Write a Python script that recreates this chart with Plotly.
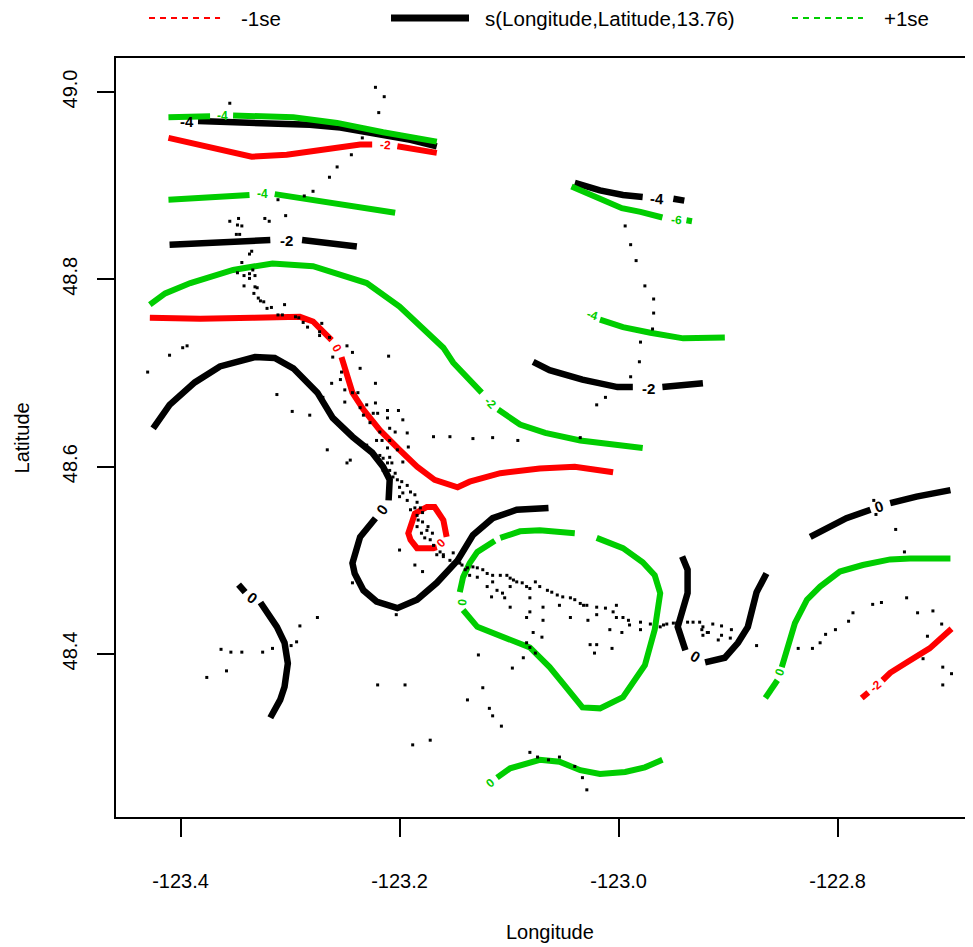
import plotly.graph_objects as go

# ---------------- observation locations (Longitude, Latitude) ----------------
obs_lon = [-123.222, -123.214, -123.219, -123.355, -123.234, -123.244, -123.257, -123.264, -123.279, -123.287,
           -123.311, -123.304, -123.323, -123.319, -123.355, -123.347, -123.348, -123.344, -123.349, -123.346,
           -123.335, -123.337, -123.344, -123.334, -123.348, -123.342, -123.337, -123.332, -123.337, -123.342,
           -123.332, -123.330, -123.333, -123.329, -123.327, -123.324, -123.321, -123.317, -123.305, -123.311,
           -123.307, -123.295, -123.292, -123.288, -123.284, -123.271, -123.273, -123.273, -123.264, -123.248,
           -123.394, -123.398, -123.430, -123.410,
           -123.243, -123.261, -123.253, -123.254, -123.250, -123.243, -123.238, -123.236, -123.210, -123.262,
           -123.270, -123.282, -123.250, -123.236, -123.230, -123.222, -123.233, -123.224, -123.220, -123.211,
           -123.211, -123.201, -123.197, -123.227, -123.218, -123.209, -123.204, -123.193, -123.221, -123.216,
           -123.209, -123.211, -123.192, -123.202, -123.230, -123.218, -123.215, -123.209, -123.211, -123.207,
           -123.215, -123.209, -123.204, -123.197, -123.245, -123.248, -123.266, -123.206, -123.202, -123.198,
           -123.200, -123.193, -123.197, -123.190, -123.200, -123.193, -123.186, -123.184, -123.190, -123.186,
           -123.181, -123.184, -123.179, -123.183, -123.179, -123.174, -123.184, -123.180, -123.175, -123.170,
           -123.177, -123.172, -123.169, -123.163, -123.160, -123.166, -123.200, -123.186, -123.243, -123.151,
           -123.145, -123.222, -123.169, -123.154, -123.133, -123.115, -123.092, -123.035,
           -123.143, -123.138, -123.133, -123.129, -123.124, -123.120, -123.129, -123.115, -123.108, -123.102,
           -123.099, -123.096, -123.115, -123.120, -123.111, -123.106, -123.099, -123.093, -123.088, -123.084,
           -123.081, -123.076, -123.072, -123.065, -123.061, -123.056, -123.051, -123.044, -123.040, -123.035,
           -123.029, -123.020, -123.012, -123.005, -123.002, -122.996, -122.991, -122.990, -122.980, -122.971,
           -122.962, -122.956, -122.947, -122.937, -122.926, -122.923, -122.919, -123.002, -123.020, -123.032,
           -123.054, -123.069, -123.081, -123.084, -123.099, -123.116, -123.104, -123.081, -123.069, -123.044,
           -123.028, -123.008, -122.997, -122.980, -123.078, -123.070, -123.084, -123.081, -123.026, -123.020,
           -123.022, -123.006, -123.087, -123.076, -123.128, -123.097, -123.124, -123.138, -123.118, -123.115,
           -123.107, -123.195, -123.179, -123.160, -123.154, -123.140, -123.136, -122.959, -122.950,
           -122.932, -122.924, -122.923, -122.918, -122.914, -122.906, -122.906, -122.897, -122.898, -122.909,
           -122.874, -122.836, -122.823, -122.816, -122.811, -122.802, -122.790, -122.786, -122.768, -122.760,
           -122.737, -122.727, -122.713, -122.705, -122.718, -122.722, -122.704, -122.696, -122.704, -122.747,
           -122.739, -122.767, -122.765,
           -122.994, -122.989, -122.984, -122.976, -122.968, -122.968, -122.969, -122.980, -122.981, -122.989,
           -123.012, -123.020,
           -123.275, -123.291, -123.294, -123.299, -123.316, -123.325, -123.344, -123.354, -123.363, -123.358,
           -123.376,
           -123.188, -123.172, -123.220, -123.081, -123.074, -123.064, -123.054, -123.040, -123.033, -123.029,
           -123.312, -123.298, -123.203]
obs_lat = [49.005, 48.995, 48.978, 48.988, 48.951, 48.933, 48.920, 48.909, 48.894, 48.889,
           48.885, 48.868, 48.865, 48.862, 48.862, 48.865, 48.858, 48.857, 48.848, 48.848,
           48.830, 48.827, 48.818, 48.810, 48.807, 48.804, 48.806, 48.804, 48.801, 48.793,
           48.792, 48.791, 48.785, 48.780, 48.777, 48.776, 48.769, 48.770, 48.773, 48.762,
           48.762, 48.760, 48.759, 48.754, 48.749, 48.753, 48.744, 48.740, 48.738, 48.729,
           48.729, 48.727, 48.701, 48.719,
           48.722, 48.717, 48.701, 48.693, 48.682, 48.679, 48.679, 48.705, 48.718, 48.689,
           48.674, 48.655, 48.669, 48.663, 48.666, 48.668, 48.655, 48.657, 48.657, 48.660,
           48.652, 48.660, 48.650, 48.647, 48.637, 48.641, 48.637, 48.636, 48.628, 48.628,
           48.628, 48.620, 48.621, 48.618, 48.623, 48.612, 48.609, 48.610, 48.604, 48.604,
           48.596, 48.596, 48.593, 48.605, 48.607, 48.604, 48.618, 48.589, 48.586, 48.584,
           48.578, 48.580, 48.572, 48.573, 48.568, 48.564, 48.570, 48.562, 48.554, 48.556,
           48.556, 48.548, 48.551, 48.543, 48.541, 48.536, 48.536, 48.529, 48.532, 48.529,
           48.524, 48.522, 48.516, 48.509, 48.506, 48.506, 48.511, 48.495, 48.476, 48.508,
           48.497, 48.689, 48.632, 48.632, 48.630, 48.631, 48.628, 48.631,
           48.495, 48.492, 48.493, 48.492, 48.490, 48.486, 48.482, 48.484, 48.484, 48.484,
           48.481, 48.479, 48.477, 48.472, 48.468, 48.465, 48.472, 48.477, 48.476, 48.472,
           48.470, 48.477, 48.472, 48.468, 48.466, 48.463, 48.461, 48.460, 48.458, 48.454,
           48.452, 48.450, 48.449, 48.445, 48.439, 48.439, 48.436, 48.431, 48.434, 48.432,
           48.429, 48.432, 48.433, 48.434, 48.434, 48.429, 48.423, 48.452, 48.442, 48.452,
           48.452, 48.450, 48.445, 48.439, 48.450, 48.461, 48.460, 48.460, 48.436, 48.439,
           48.436, 48.426, 48.423, 48.426, 48.423, 48.418, 48.412, 48.407, 48.410, 48.410,
           48.401, 48.406, 48.396, 48.401, 48.399, 48.385, 48.364, 48.351, 48.342, 48.334,
           48.323, 48.367, 48.488, 48.504, 48.500, 48.490, 48.484, 48.431, 48.433,
           48.434, 48.426, 48.420, 48.423, 48.432, 48.430, 48.420, 48.426, 48.417, 48.415,
           48.409, 48.406, 48.406, 48.412, 48.421, 48.426, 48.435, 48.444, 48.453, 48.455,
           48.460, 48.444, 48.446, 48.432, 48.419, 48.395, 48.386, 48.379, 48.367, 48.533,
           48.509, 48.564, 48.549,
           48.857, 48.837, 48.820, 48.793, 48.779, 48.764, 48.747, 48.733, 48.712, 48.696,
           48.674, 48.666,
           48.439, 48.430, 48.413, 48.409, 48.406, 48.402, 48.402, 48.402, 48.405, 48.382,
           48.375,
           48.303, 48.308, 48.367, 48.295, 48.290, 48.287, 48.290, 48.280, 48.268, 48.255,
           48.677, 48.659, 48.442]

# ---------------- fitted smooth contours (None = gap for a label) ----------------
fit_m4_nw_lon = [-123.384, -123.355, -123.318, -123.282, -123.254, -123.218, -123.190, -123.166]
fit_m4_nw_lat = [48.969, 48.968, 48.967, 48.965, 48.962, 48.955, 48.949, 48.942]

fit_m2_nw_lon = [-123.410, -123.373, -123.337, -123.318, None, -123.289, -123.264, -123.239]
fit_m2_nw_lat = [48.837, 48.839, 48.842, 48.842, None, 48.842, 48.839, 48.835]

fit_0_w_lon = [-123.425, -123.410, -123.387, -123.364, -123.332, -123.314, -123.297, -123.275, -123.261,
               -123.243, -123.225, -123.215, -123.209, -123.210, None,
               -123.222, -123.236, -123.243, -123.241, -123.233, -123.221, -123.202, -123.184, -123.166,
               -123.147, -123.133, -123.115, -123.093, -123.064]
fit_0_w_lat = [48.641, 48.666, 48.690, 48.707, 48.717, 48.716, 48.705, 48.679, 48.652,
               48.632, 48.615, 48.600, 48.586, 48.564, None,
               48.545, 48.525, 48.497, 48.486, 48.468, 48.456, 48.449, 48.458, 48.476,
               48.500, 48.527, 48.545, 48.554, 48.556]

fit_0_sw_lon = [-123.347, -123.341, None, -123.327, -123.312, -123.305, -123.302, -123.305, -123.309, -123.318]
fit_0_sw_lat = [48.474, 48.466, None, 48.455, 48.429, 48.412, 48.390, 48.365, 48.351, 48.332]

fit_m4_ne_lon = [-123.040, -123.017, -122.996, -122.978, None, -122.950, -122.940]
fit_m4_ne_lat = [48.903, 48.895, 48.890, 48.888, None, 48.886, 48.884]

fit_m2_ne_lon = [-123.078, -123.063, -123.033, -123.001, -122.987, None, -122.960, -122.923]
fit_m2_ne_lat = [48.712, 48.703, 48.693, 48.685, 48.685, None, 48.685, 48.689]

fit_0_u_lon = [-122.942, -122.937, -122.937, -122.941, -122.946, -122.939, None,
               -122.921, -122.903, -122.891, -122.882, -122.874, -122.865]
fit_0_u_lat = [48.504, 48.490, 48.465, 48.447, 48.429, 48.404, None,
               48.391, 48.396, 48.412, 48.429, 48.466, 48.486]

fit_0_e_lon = [-122.825, -122.792, -122.770, None, -122.752, -122.728, -122.697]
fit_0_e_lat = [48.525, 48.545, 48.554, None, 48.561, 48.568, 48.575]

# ---------------- -1se contours ----------------
lo_m2_n_lon = [-123.411, -123.382, -123.335, -123.303, -123.261, -123.236, -123.225, None, -123.202, -123.166]
lo_m2_n_lat = [48.951, 48.943, 48.931, 48.933, 48.940, 48.944, 48.944, None, 48.942, 48.935]

lo_0_w_lon = [-123.428, -123.382, -123.334, -123.312, -123.291, -123.279, -123.262, None,
              -123.253, -123.247, -123.243, -123.233, -123.218, -123.200, -123.184, -123.168,
              -123.147, -123.136, -123.108, -123.072, -123.040, -123.005]
lo_0_w_lat = [48.759, 48.758, 48.759, 48.760, 48.760, 48.755, 48.735, None,
              48.717, 48.693, 48.679, 48.661, 48.639, 48.618, 48.600, 48.586,
              48.578, 48.584, 48.593, 48.598, 48.600, 48.594]

lo_0_loop_lon = [-123.157, -123.160, -123.168, -123.175, -123.186, -123.192, -123.190, -123.184, -123.169, -123.166]
lo_0_loop_lat = [48.525, 48.543, 48.557, 48.557, 48.550, 48.529, 48.522, 48.513, 48.513, 48.514]

lo_m2_se_lon = [-122.778, -122.772, None, -122.759, -122.752, -122.737, -122.716, -122.696]
lo_m2_se_lat = [48.353, 48.359, None, 48.372, 48.380, 48.391, 48.406, 48.427]

# ---------------- +1se contours ----------------
hi_m4_n_lon = [-123.411, -123.373, None, -123.352, -123.297, -123.257, -123.215, -123.166]
hi_m4_n_lat = [48.973, 48.974, None, 48.975, 48.973, 48.967, 48.957, 48.947]

hi_m4_w_lon = [-123.411, -123.337, None, -123.314, -123.261, -123.204]
hi_m4_w_lat = [48.885, 48.890, None, 48.891, 48.882, 48.871]

hi_m2_lon = [-123.428, -123.414, -123.391, -123.352, -123.316, -123.279, -123.230, -123.200, -123.160,
             -123.151, -123.125, None, -123.110, -123.090, -123.067, -123.035, -122.978]
hi_m2_lat = [48.773, 48.785, 48.796, 48.810, 48.817, 48.814, 48.796, 48.771, 48.727,
             48.711, 48.679, None, 48.661, 48.645, 48.636, 48.628, 48.620]

hi_m6_lon = [-123.043, -122.997, -122.980, -122.960, None, -122.938, -122.933]
hi_m6_lat = [48.899, 48.876, 48.872, 48.866, None, 48.863, 48.862]

hi_m4_e_lon = [-123.017, -122.996, -122.971, -122.941, -122.903]
hi_m4_e_lat = [48.757, 48.749, 48.743, 48.737, 48.738]

hi_0_loop_lon = [-123.145, -123.142, -123.136, -123.129, -123.113, None,
                 -123.108, -123.090, -123.072, -123.040, None,
                 -123.020, -122.996, -122.978, -122.967, -122.962, -122.967, -122.976, -122.996,
                 -123.017, -123.033, -123.051, -123.063, -123.081, -123.106, -123.129, -123.142]
hi_0_loop_lat = [48.466, 48.482, 48.497, 48.509, 48.521, None,
                 48.524, 48.531, 48.532, 48.529, None,
                 48.524, 48.513, 48.498, 48.484, 48.465, 48.426, 48.388, 48.354,
                 48.342, 48.343, 48.369, 48.386, 48.407, 48.418, 48.429, 48.447]

hi_0_s_lon = [-123.111, -123.099, -123.072, -123.054, -123.035, -123.017, -122.994, -122.976, -122.960]
hi_0_s_lat = [48.268, 48.278, 48.287, 48.285, 48.276, 48.272, 48.274, 48.279, 48.287]

hi_0_e_lon = [-122.866, -122.855, None, -122.851, -122.846, -122.839, -122.828, -122.816, -122.798,
              -122.777, -122.752, -122.734, -122.697]
hi_0_e_lat = [48.353, 48.372, None, 48.386, 48.407, 48.433, 48.458, 48.472, 48.488,
              48.495, 48.501, 48.502, 48.502]

# ---------------- contour labels ----------------
fit_lab_text = ["-4", "-2", "0", "0", "-4", "-2", "0", "0"]
fit_lab_lon = [-123.394, -123.303, -123.216, -123.335, -122.965, -122.973, -122.930, -122.762]
fit_lab_lat = [48.969, 48.842, 48.554, 48.460, 48.886, 48.684, 48.397, 48.557]

lo_lab_text = ["-2", "0", "0", "-2"]
lo_lab_lon = [-123.213, -123.257, -123.162, -122.765]
lo_lab_lat = [48.943, 48.727, 48.518, 48.366]

hi_lab_text = ["-4", "-4", "-2", "-6", "-4", "0", "0", "0"]
hi_lab_lon = [-123.362, -123.325, -123.117, -122.947, -123.024, -123.143, -123.117, -122.853]
hi_lab_lat = [48.974, 48.891, 48.668, 48.863, 48.762, 48.456, 48.262, 48.381]

x_ticks = [-123.4, -123.2, -123.0, -122.8]
x_tick_text = ["-123.4", "-123.2", "-123.0", "-122.8"]
y_ticks = [48.4, 48.6, 48.8, 49.0]
y_tick_text = ["48.4", "48.6", "48.8", "49.0"]

# ---------------- styling ----------------
FONT = "Liberation Sans, Arial, Helvetica, sans-serif"
BLACK, RED, GREEN = "#000000", "#FF0000", "#00CD00"

fit_lines = [(fit_m4_nw_lon, fit_m4_nw_lat), (fit_m2_nw_lon, fit_m2_nw_lat), (fit_0_w_lon, fit_0_w_lat),
             (fit_0_sw_lon, fit_0_sw_lat), (fit_m4_ne_lon, fit_m4_ne_lat), (fit_m2_ne_lon, fit_m2_ne_lat),
             (fit_0_u_lon, fit_0_u_lat), (fit_0_e_lon, fit_0_e_lat)]
lo_lines = [(lo_m2_n_lon, lo_m2_n_lat), (lo_0_w_lon, lo_0_w_lat), (lo_0_loop_lon, lo_0_loop_lat),
            (lo_m2_se_lon, lo_m2_se_lat)]
hi_lines = [(hi_m4_n_lon, hi_m4_n_lat), (hi_m4_w_lon, hi_m4_w_lat), (hi_m2_lon, hi_m2_lat),
            (hi_m6_lon, hi_m6_lat), (hi_m4_e_lon, hi_m4_e_lat), (hi_0_loop_lon, hi_0_loop_lat),
            (hi_0_s_lon, hi_0_s_lat), (hi_0_e_lon, hi_0_e_lat)]

fig = go.Figure()
for group, color, width in ((fit_lines, BLACK, 6.5), (lo_lines, RED, 6), (hi_lines, GREEN, 6)):
    for lon, lat in group:
        fig.add_trace(go.Scatter(x=lon, y=lat, mode="lines", connectgaps=False,
                                 line=dict(color=color, width=width), hoverinfo="skip", showlegend=False))

fig.add_trace(go.Scatter(x=obs_lon, y=obs_lat, mode="markers",
                         marker=dict(symbol="square", size=3, color=BLACK, line=dict(width=0)),
                         hoverinfo="skip", showlegend=False))

fit_lab_angle = [0, 0, -52, 36, 3, 0, 31, -19]
lo_lab_angle = [4, 60, -45, -39]
hi_lab_angle = [0, 0, 45, 5, 17, -85, -40, -69]

annotations = []
for texts, lons, lats, angles, color, size, bold in (
        (fit_lab_text, fit_lab_lon, fit_lab_lat, fit_lab_angle, BLACK, 15, True),
        (lo_lab_text, lo_lab_lon, lo_lab_lat, lo_lab_angle, RED, 12, True),
        (hi_lab_text, hi_lab_lon, hi_lab_lat, hi_lab_angle, GREEN, 12, True)):
    for t, x, y, a in zip(texts, lons, lats, angles):
        annotations.append(dict(x=x, y=y, xref="x", yref="y", text=("<b>%s</b>" % t) if bold else t,
                                showarrow=False, textangle=a,
                                font=dict(family=FONT, size=size, color=color),
                                xanchor="center", yanchor="middle"))

# legend (drawn above the panel)
LEG_Y = 1.0527
legend_items = [("-1se", RED, "dash", 1.8, 0.0385, 0.1214, 0.1435),
                ("s(Longitude,Latitude,13.76)", BLACK, "solid", 7, 0.3209, 0.4119, 0.4282),
                ("+1se", GREEN, "dash", 1.8, 0.7888, 0.8716, 0.8938)]
shapes = []
for label, color, dash, w, x0, x1, xt in legend_items:
    shapes.append(dict(type="line", xref="paper", yref="paper", x0=x0, x1=x1, y0=LEG_Y, y1=LEG_Y,
                       line=dict(color=color, width=w, dash="6px,5px" if dash == "dash" else "solid")))
    annotations.append(dict(x=xt, y=LEG_Y, xref="paper", yref="paper", text=label, showarrow=False,
                            xanchor="left", yanchor="middle", font=dict(family=FONT, size=20.5, color=BLACK)))

annotations.append(dict(x=0.5064, y=-0.1515, xref="paper", yref="paper", text="Longitude", showarrow=False,
                        xanchor="center", yanchor="middle", font=dict(family=FONT, size=20, color=BLACK)))
annotations.append(dict(x=-0.1097, y=0.5, xref="paper", yref="paper", text="Latitude", showarrow=False,
                        textangle=-90, xanchor="center", yanchor="middle",
                        font=dict(family=FONT, size=20, color=BLACK)))

# page body has an 8px offset, so the figure is 8px smaller and margins are reduced accordingly
fig.update_layout(
    width=965, height=939,
    margin=dict(l=108, r=0, t=50, b=130, pad=0),
    paper_bgcolor="white", plot_bgcolor="white",
    showlegend=False,
    font=dict(family=FONT, size=20, color=BLACK),
    annotations=annotations, shapes=shapes,
    xaxis=dict(range=[-123.4589, -122.6764], tickmode="array", tickvals=x_ticks, ticktext=x_tick_text,
               ticks="outside", ticklen=18, tickwidth=1.5, tickcolor=BLACK,
               showline=True, linewidth=2, linecolor=BLACK, mirror=True,
               showgrid=False, zeroline=False, tickfont=dict(family=FONT, size=20, color=BLACK),
               ticklabelstandoff=27),
    yaxis=dict(range=[48.2260, 49.0363], tickmode="array", tickvals=y_ticks, ticktext=y_tick_text,
               ticks="outside", ticklen=17, tickwidth=1.5, tickcolor=BLACK, tickangle=-90,
               showline=True, linewidth=2, linecolor=BLACK, mirror=False,
               showgrid=False, zeroline=False, tickfont=dict(family=FONT, size=20, color=BLACK),
               ticklabelstandoff=12),
)

fig.write_html("out.html")
